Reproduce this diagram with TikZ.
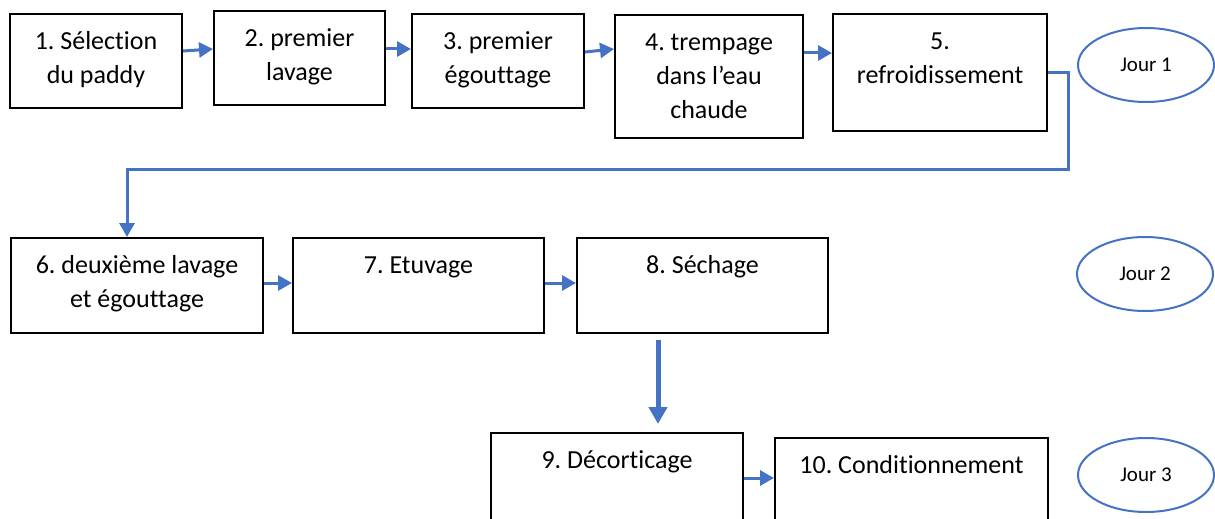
\documentclass[tikz,border=0pt]{standalone}
\usepackage{fontspec}
\setmainfont{Carlito}[Ligatures=NoCommon]
\frenchspacing
\usetikzlibrary{arrows.meta,shapes.geometric}
\definecolor{officeblue}{HTML}{4472C4}

\begin{document}
\begin{tikzpicture}[x=0.5pt,y=-0.5pt,
  stepbox/.style={draw=black, line width=1pt, rectangle, anchor=north west, inner sep=0pt},
  steptext/.style={anchor=north, yshift=-6.5pt, align=center, inner sep=0pt,
    font=\fontsize{13}{16.8}\selectfont},
  jour/.style={draw=officeblue, line width=1pt, ellipse, minimum width=68pt, minimum height=37pt,
    inner sep=0pt, font=\fontsize{10.5}{12}\selectfont},
  flow/.style={draw=officeblue, line width=1.5pt, -{Triangle[length=7pt,width=7.5pt]}}]
  \useasboundingbox (0,0) rectangle (1215,519);
  \clip (0,0) rectangle (1215,519);

  \node[stepbox, minimum width=86pt, minimum height=47pt, label={[steptext]north:{\strut 1. Sélection\\du paddy}}] (B1) at (9,13) {};
  \node[stepbox, minimum width=85.5pt, minimum height=47pt, label={[steptext]north:{\strut 2. premier\\lavage}}] (B2) at (213,10) {};
  \node[stepbox, minimum width=86pt, minimum height=47pt, label={[steptext]north:{\strut 3. premier\\égouttage}}] (B3) at (411,13) {};
  \node[stepbox, minimum width=94pt, minimum height=61.5pt, label={[steptext]north:{\strut 4. trempage\\dans l’eau\\chaude}}] (B4) at (614,14) {};
  \node[stepbox, minimum width=107pt, minimum height=58.5pt, label={[steptext]north:{\strut 5.\\refroidissement}}] (B5) at (832,13) {};
  \node[stepbox, minimum width=126pt, minimum height=47.5pt, label={[steptext]north:{\strut 6. deuxième lavage\\et égouttage}}] (B6) at (10,237) {};
  \node[stepbox, minimum width=125.5pt, minimum height=47.5pt, label={[steptext]north:{\strut 7. Etuvage}}] (B7) at (292,237) {};
  \node[stepbox, minimum width=125.5pt, minimum height=47.5pt, label={[steptext]north:{\strut 8. Séchage}}] (B8) at (576,237) {};
  \node[stepbox, minimum width=126pt, minimum height=54pt, label={[steptext]north:{\strut 9. Décorticage}}] (B9) at (490,432) {};
  \node[stepbox, minimum width=136.5pt, minimum height=51.5pt, label={[steptext]north:{\strut 10. Conditionnement}}] (B10) at (774,437) {};

  \node[jour] (J1) at (1146,65) {Jour 1};
  \node[jour] (J2) at (1145,274) {Jour 2};
  \node[jour] (J3) at (1146,475) {Jour 3};

  \coordinate (bend) at (1068,169);

  \draw[flow] ([yshift=5pt]B1.east) -- ([yshift=4.5pt]B2.west);
  \draw[flow] ([yshift=4.5pt]B2.east) -- ([yshift=6pt]B3.west);
  \draw[flow] ([yshift=4.5pt]B3.east) -- ([yshift=13.75pt]B4.west);
  \draw[flow] ([yshift=11.75pt]B4.east) -- ([yshift=9.75pt]B5.west);
  \draw[flow] (B5.east) -| (bend) -| ([xshift=-5pt]B6.north);
  \draw[flow] ([yshift=1.25pt]B6.east) -- ([yshift=1.25pt]B7.west);
  \draw[flow] ([yshift=1.25pt]B7.east) -- ([yshift=1.25pt]B8.west);
  \draw[flow, line width=2.5pt, -{Triangle[length=8.5pt,width=9pt]}] ([xshift=-22.25pt,yshift=-3pt]B8.south) -- ([xshift=20.5pt,yshift=4pt]B9.north);
  \draw[flow] ([yshift=4.5pt]B9.east) -- ([yshift=5.75pt]B10.west);
\end{tikzpicture}
\end{document}
